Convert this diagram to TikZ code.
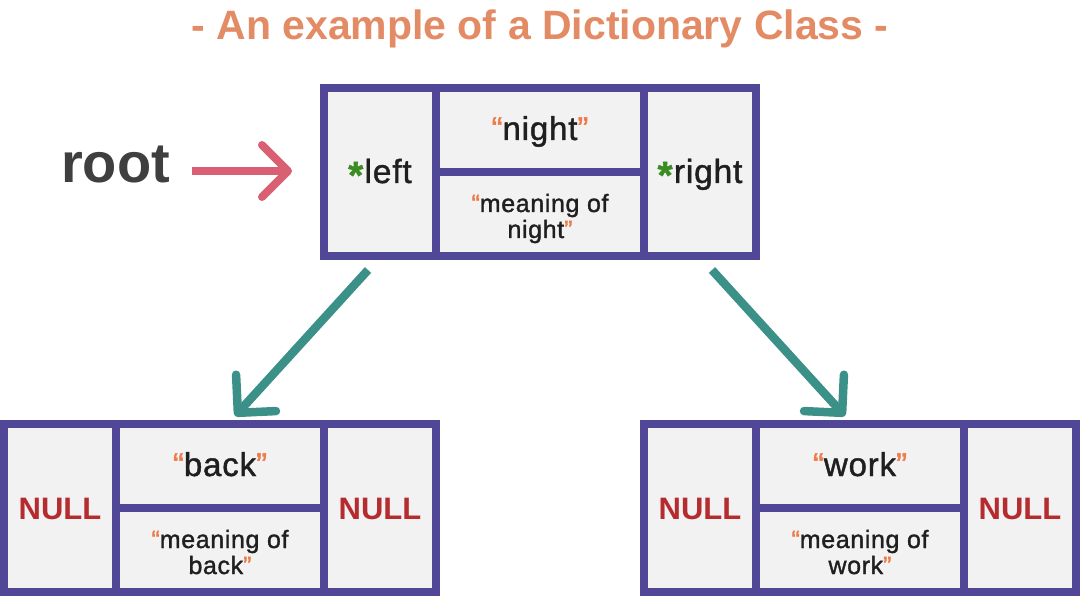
\documentclass[tikz,border=0pt]{standalone}
\usepackage{fontspec}
\setmainfont{Liberation Sans}
\newfontfamily\medfont[FakeBold=1.3,LetterSpace=2.5]{Liberation Sans}
\usetikzlibrary{arrows.meta,calc}
\definecolor{boxpurple}{HTML}{504896}
\definecolor{cellgray}{HTML}{F2F2F2}
\definecolor{tealc}{HTML}{3B9188}
\definecolor{pinkc}{HTML}{D95F73}
\definecolor{titleor}{HTML}{E38B64}
\definecolor{quoteor}{HTML}{EE7B4A}
\definecolor{astgreen}{HTML}{3C8C24}
\definecolor{nullred}{HTML}{B52B2E}
\definecolor{ink}{HTML}{1F1F1F}
\definecolor{rootink}{HTML}{3F3F3F}
\newcommand\myoq{\textcolor{quoteor}{“}}
\newcommand\mycq{\textcolor{quoteor}{”}}
\newcommand\myast{\textcolor{astgreen}{\raisebox{-0.16em}{\scalebox{1.15}{\bfseries *}}}\kern0.04em}
\tikzset{
  cell/.style={rectangle, fill=cellgray, inner sep=0pt, outer sep=0pt},
  sidecell/.style={cell, minimum width=104pt, minimum height=160pt},
  keycell/.style={cell, minimum width=200pt, minimum height=76pt},
  frame/.style={rectangle, draw=boxpurple, line width=8pt, inner sep=0pt, minimum width=432pt, minimum height=168pt},
  divider/.style={draw=boxpurple, line width=8pt},
  txt/.style={anchor=base, inner sep=0pt, text=ink},
  keytxt/.style={txt, font=\medfont\fontsize{33}{40}\selectfont},
  meantxt/.style={txt, font=\medfont\fontsize{25}{30}\selectfont},
  ptrtxt/.style={txt, font=\medfont\fontsize{33.5}{40}\selectfont},
  nulltxt/.style={txt, text=nullred, font=\fontsize{31}{37}\selectfont\bfseries},
  tealarrow/.style={draw=tealc, line width=8.5pt, line cap=butt,
    -{Straight Barb[length=27pt,width=54pt,line cap=round,line join=round]}},
  pinkarrow/.style={draw=pinkc, line width=8pt, line cap=butt,
    -{Straight Barb[length=26pt,width=52pt,line cap=round,line join=round]}},
}
\begin{document}
\begin{tikzpicture}[x=1pt,y=-1pt]
\useasboundingbox (0,0) rectangle (1080,596);

% title
\node[anchor=base, inner sep=0pt, text=titleor, font=\fontsize{41}{48}\selectfont\bfseries] (title) at (540,40) {- An example of a Dictionary Class -};

% root label
\node[anchor=base west, inner sep=0pt, text=rootink, font=\fontsize{56}{64}\selectfont\bfseries] (root) at (61,183) {root};

% ---------- top node ----------
\node[sidecell] (tl) at (380,172) {};
\node[keycell] (tk) at (540,130) {};
\node[keycell] (tm) at (540,214) {};
\node[sidecell] (tr) at (700,172) {};
\node[frame] (topframe) at (540,172) {};
\draw[divider] (436,88) -- (436,256);
\draw[divider] (644,88) -- (644,256);
\draw[divider] (436,172) -- (644,172);
\node[keytxt] (tkt) at ($(tk.center)+(0,10)$) {\myoq night\mycq};
\node[meantxt] (tmt1) at ($(tm.center)+(0,-2)$) {\myoq meaning of};
\node[meantxt] (tmt2) at ($(tm.center)+(0,24)$) {night\mycq};
\node[ptrtxt] (tlt) at ($(tl.center)+(0,11)$) {\myast left};
\node[ptrtxt] (trt) at ($(tr.center)+(0,11)$) {\myast right};

% ---------- bottom-left node ----------
\node[sidecell] (bll) at (60,508) {};
\node[keycell] (blk) at (220,466) {};
\node[keycell] (blm) at (220,550) {};
\node[sidecell] (blr) at (380,508) {};
\node[frame] (blframe) at (220,508) {};
\draw[divider] (116,424) -- (116,592);
\draw[divider] (324,424) -- (324,592);
\draw[divider] (116,508) -- (324,508);
\node[keytxt] (blkt) at ($(blk.center)+(0,10)$) {\myoq back\mycq};
\node[meantxt] (blmt1) at ($(blm.center)+(0,-2)$) {\myoq meaning of};
\node[meantxt] (blmt2) at ($(blm.center)+(0,24)$) {back\mycq};
\node[nulltxt] (bllt) at ($(bll.center)+(0,11)$) {NULL};
\node[nulltxt] (blrt) at ($(blr.center)+(0,11)$) {NULL};

% ---------- bottom-right node ----------
\node[sidecell] (brl) at (700,508) {};
\node[keycell] (brk) at (860,466) {};
\node[keycell] (brm) at (860,550) {};
\node[sidecell] (brr) at (1020,508) {};
\node[frame] (brframe) at (860,508) {};
\draw[divider] (756,424) -- (756,592);
\draw[divider] (964,424) -- (964,592);
\draw[divider] (756,508) -- (964,508);
\node[keytxt] (brkt) at ($(brk.center)+(0,10)$) {\myoq work\mycq};
\node[meantxt] (brmt1) at ($(brm.center)+(0,-2)$) {\myoq meaning of};
\node[meantxt] (brmt2) at ($(brm.center)+(0,24)$) {work\mycq};
\node[nulltxt] (brlt) at ($(brl.center)+(0,11)$) {NULL};
\node[nulltxt] (brrt) at ($(brr.center)+(0,11)$) {NULL};

% ---------- arrows ----------
\coordinate (rootA) at (192,171);
\coordinate (rootB) at (292,171);
\draw[pinkarrow] (rootA) -- (rootB);
\coordinate (lA) at (368,270);
\coordinate (lB) at (235,416);
\draw[tealarrow] (lA) -- (lB);
\coordinate (rA) at (712,270);
\coordinate (rB) at (845,416);
\draw[tealarrow] (rA) -- (rB);
\end{tikzpicture}
\end{document}
